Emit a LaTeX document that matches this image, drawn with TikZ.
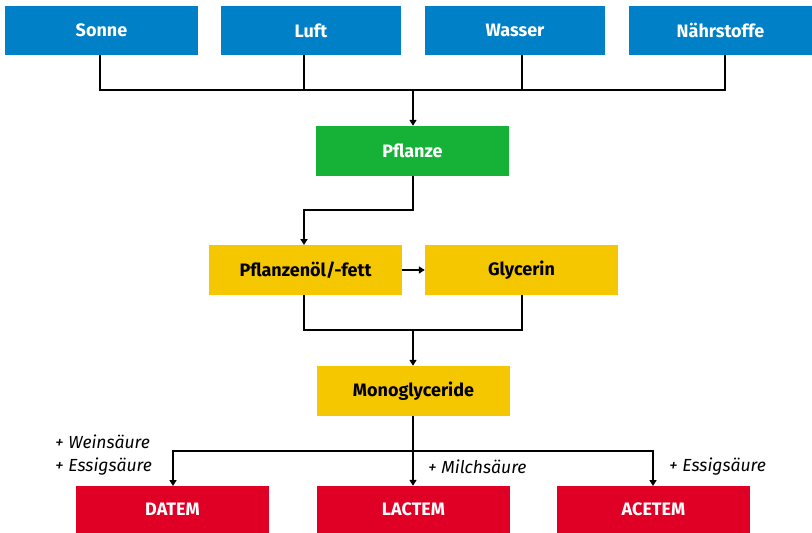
\documentclass[tikz,border=0pt]{standalone}
\usepackage{fontspec}
\setmainfont{Fira Sans}
\usetikzlibrary{arrows.meta}
\definecolor{cblue}{RGB}{0,128,198}
\definecolor{cgreen}{RGB}{22,178,56}
\definecolor{cyellow}{RGB}{244,199,0}
\definecolor{cred}{RGB}{225,0,37}
\tikzset{
  box/.style={rectangle, inner sep=0pt, minimum height=49pt, font=\fontsize{18}{20}\selectfont\bfseries},
  bluebox/.style={box, fill=cblue, text=white},
  greenbox/.style={box, fill=cgreen, text=white, minimum height=50pt},
  yellowbox/.style={box, fill=cyellow, text=black, minimum height=50pt},
  redbox/.style={box, fill=cred, text=white, minimum height=47pt},
  conn/.style={line width=1.5pt, black},
  arr/.style={conn, -{Triangle[length=6pt,width=7pt]}},
  lbl/.style={font=\fontsize{17.5}{19}\selectfont\itshape, inner sep=0pt}
}
\begin{document}
\begin{tikzpicture}[x=1pt,y=-1pt]
\useasboundingbox (0,0) rectangle (812,533);
% top row
\node[bluebox, minimum width=193pt] (sonne) at (101.5,30.5) {Sonne};
\node[bluebox, minimum width=180pt] (luft) at (311,30.5) {Luft};
\node[bluebox, minimum width=180pt] (wasser) at (515,30.5) {Wasser};
\node[bluebox, minimum width=183pt] (nahr) at (720.5,30.5) {Nährstoffe};
% middle
\node[greenbox, minimum width=193pt] (pflanze) at (412.5,151) {Pflanze};
\node[yellowbox, minimum width=193pt] (oel) at (305.5,270) {Pflanzenöl/-fett};
\node[yellowbox, minimum width=193pt] (glyc) at (521.5,270) {Glycerin};
\node[yellowbox, minimum width=193pt] (mono) at (413.5,391) {Monoglyceride};
% bottom
\node[redbox, minimum width=193pt] (datem) at (172.5,509.5) {DATEM};
\node[redbox, minimum width=193pt] (lactem) at (413.5,509.5) {LACTEM};
\node[redbox, minimum width=193pt] (acetem) at (653.5,509.5) {ACETEM};
% anchor coordinates on the boxes
\coordinate (sS) at (100,55);
\coordinate (lS) at (304,55);
\coordinate (wS) at (522,55);
\coordinate (nS) at (725,55);
\coordinate (jtop) at (413,90);
\coordinate (pS) at (413,176);
\coordinate (jpf) at (413,210);
\coordinate (oN) at (304,245);
\coordinate (oS) at (304,295);
\coordinate (gS) at (522,295);
\coordinate (jmid) at (413,330);
\coordinate (mS) at (413,416);
\coordinate (jbot) at (413,451);
\coordinate (dN) at (173,486);
\coordinate (aN) at (653,486);
% top connectors
\draw[conn] (sS) |- (jtop) -| (nS);
\draw[conn] (lS) -- (lS |- jtop);
\draw[conn] (wS) -- (wS |- jtop);
\draw[arr] (jtop) -- (pflanze.north -| jtop);
% Pflanze to oil
\draw[arr] (pS) |- (jpf) -| (oN);
\draw[arr] (oel.east) -- (glyc.west);
% to Monoglyceride
\draw[conn] (oS) |- (jmid) -| (gS);
\draw[arr] (jmid) -- (mono.north -| jmid);
% to products
\draw[arr] (mS) -- (lactem.north -| mS);
\draw[arr] (jbot) -| (dN);
\draw[arr] (jbot) -| (aN);
% labels
\node[lbl, anchor=west] (l1) at (55,442) {+ Weinsäure};
\node[lbl, anchor=west] (l2) at (55,467) {+ Essigsäure};
\node[lbl, anchor=west] (l3) at (428,467) {+ Milchsäure};
\node[lbl, anchor=west] (l4) at (669,467) {+ Essigsäure};
\end{tikzpicture}
\end{document}
